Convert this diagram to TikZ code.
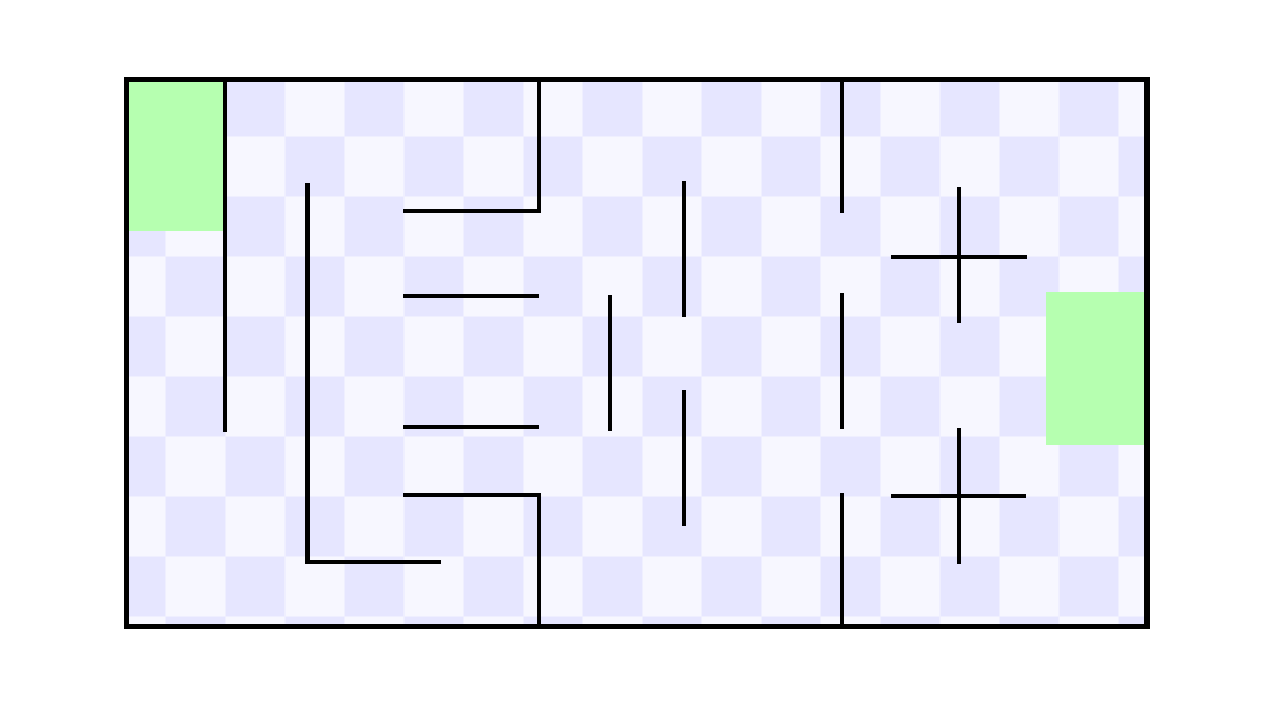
\documentclass[tikz,border=0pt]{standalone}
\definecolor{darksq}{RGB}{230,230,255}
\definecolor{lightsq}{RGB}{247,247,255}
\definecolor{seam}{RGB}{239,239,255}
\definecolor{goal}{RGB}{182,255,176}
\begin{document}
\begin{tikzpicture}[x=0.5pt,y=-0.5pt,
  wall/.style={line width=2.2pt, line join=miter},
  frame/.style={line width=2.6pt, line join=miter},
  goalzone/.style={fill=goal}]
\useasboundingbox (0,0) rectangle (1264,702);
% checkerboard background
\begin{scope}
  \clip (126.5,79.5) rectangle (1147,626.5);
  \fill[lightsq] (100,70) rectangle (1180,680);
  \foreach \i in {0,...,17} {
    \foreach \j in {0,...,9} {
      \pgfmathtruncatemacro\ckpar{mod(\i+\j,2)}
      \ifnum\ckpar=0
        \fill[darksq] ({106.25+\i*59.55},{76.7+\j*60}) rectangle ++(59.55,60);
      \fi
    }
  }
  \foreach \i in {0,...,18} \draw[seam, line width=0.6pt] ({106.25+\i*59.55},70) -- ++(0,620);
  \foreach \j in {0,...,10} \draw[seam, line width=0.6pt] (100,{76.7+\j*60}) -- ++(1100,0);
\end{scope}
% green zones
\fill[goalzone] (129,82) rectangle (223,231);
\fill[goalzone] (1046,292) rectangle (1145,445);
% walls
\draw[wall] (225,79) -- (225,432);
\draw[wall] (307.5,183) -- (307.5,562) -- (441,562);
\draw[wall] (403,211) -- (539,211) -- (539,79);
\draw[wall] (403,296) -- (539,296);
\draw[wall] (403,427) -- (539,427);
\draw[wall] (403,495) -- (539,495) -- (539,626);
\draw[wall] (610,295) -- (610,431);
\draw[wall] (684,181) -- (684,317);
\draw[wall] (684,390) -- (684,526);
\draw[wall] (842,79) -- (842,213);
\draw[wall] (842,293) -- (842,429);
\draw[wall] (842,493) -- (842,626);
\draw[wall] (959,187) -- (959,323);
\draw[wall] (891,257) -- (1027,257);
\draw[wall] (959,428) -- (959,564);
\draw[wall] (891,496) -- (1026,496);
% outer frame
\draw[frame] (126.5,79.5) rectangle (1147,626.5);
\end{tikzpicture}
\end{document}
